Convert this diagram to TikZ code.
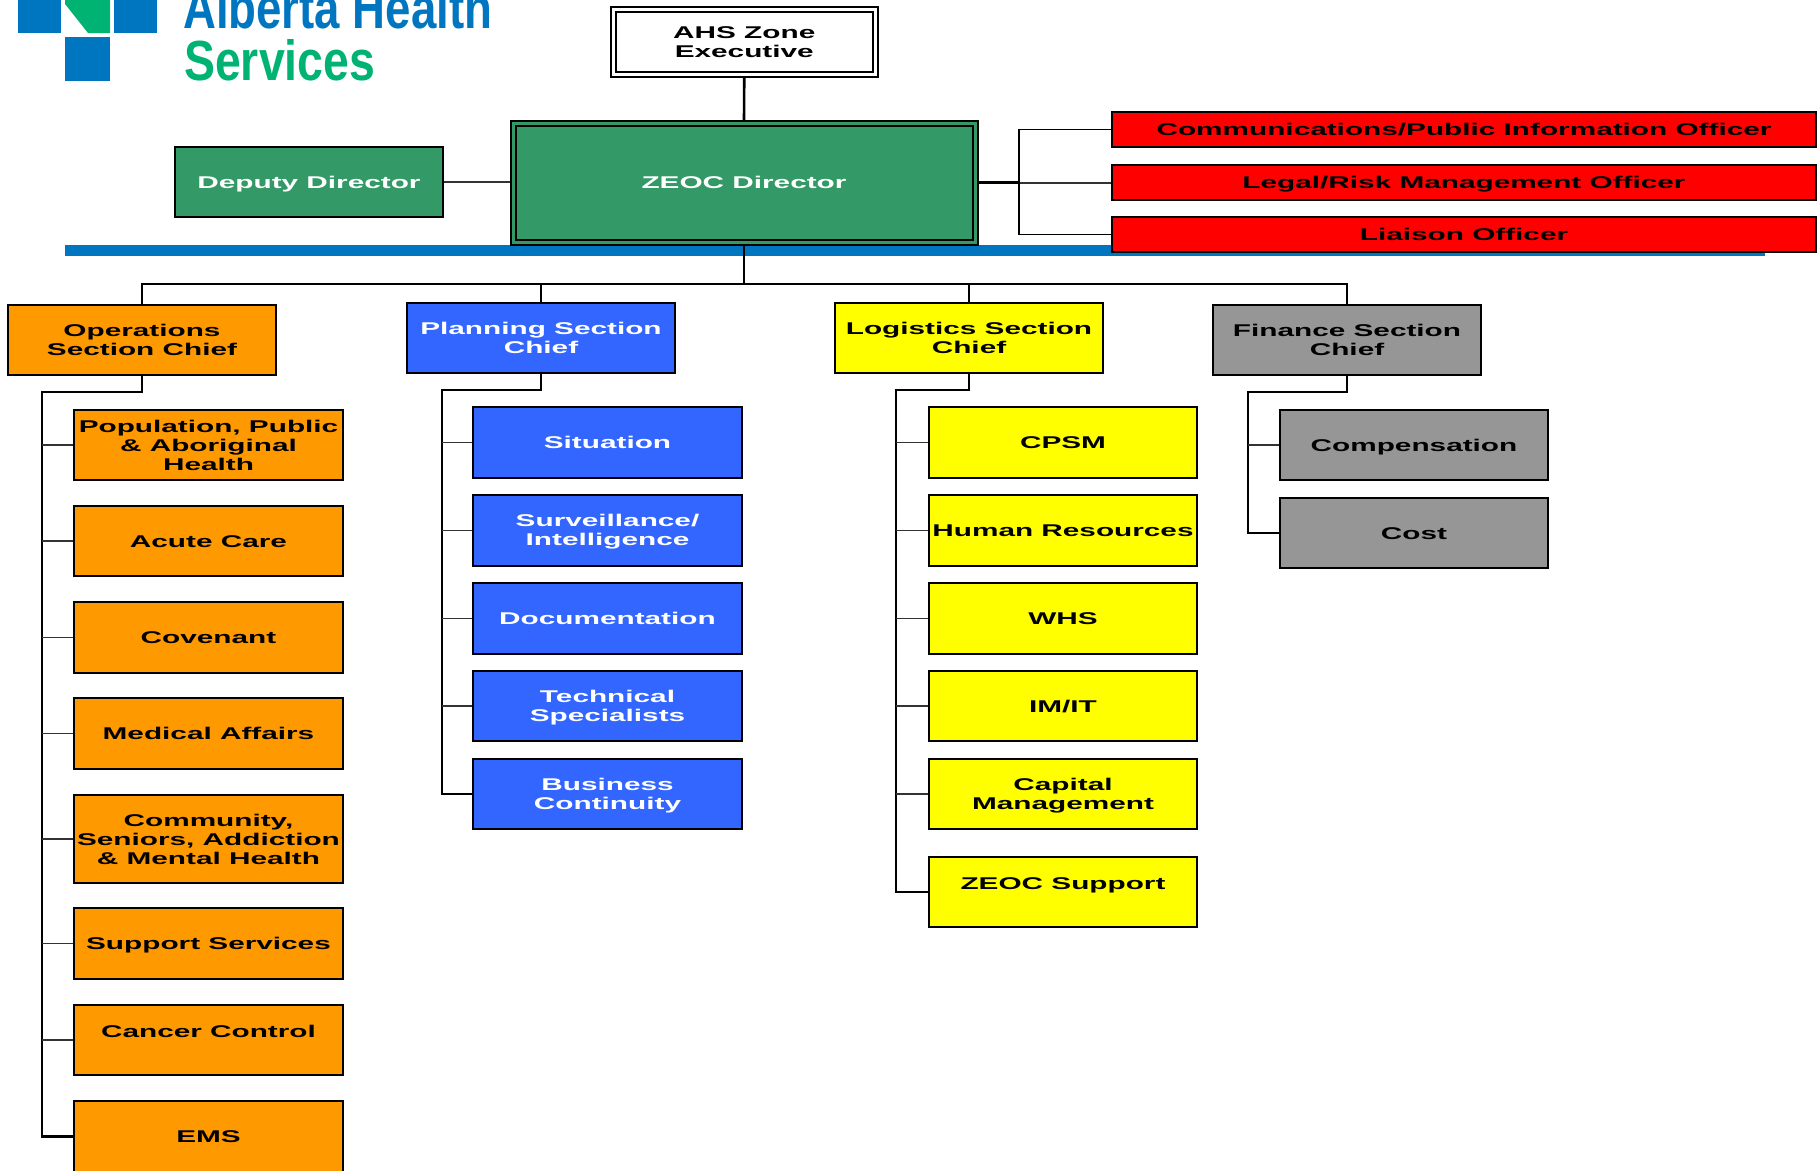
\documentclass[tikz,border=0pt]{standalone}
\usepackage{graphicx}
\usepackage{fontspec}
\setmainfont{Liberation Sans}
\newfontfamily\lab[FakeStretch=1.75]{Liberation Sans}
\definecolor{dgreen}{HTML}{339966}
\definecolor{ora}{HTML}{FF9900}
\definecolor{pblue}{HTML}{3366FF}
\definecolor{yel}{HTML}{FFFF00}
\definecolor{gry}{HTML}{969696}
\definecolor{rd}{HTML}{FF0000}
\definecolor{logoblue}{HTML}{0076C0}
\definecolor{logogreen}{HTML}{00B373}
\newcommand\lnstrut{\rule[-4pt]{0pt}{20pt}}
\newcommand\lnf[1]{\rule{0pt}{#1pt}}
\newcommand\lnl{\rule[-3.6pt]{0pt}{3.6pt}}
\tikzset{
  boxbase/.style={draw=black,line width=1.6pt,inner sep=0pt,align=center,
    font=\lab\bfseries\fontsize{17}{19}\selectfont,
    execute at begin node=\lnstrut,execute at end node=\lnstrut},
  greenbox/.style={boxbase,fill=dgreen,text=white},
  whitebox/.style={boxbase,fill=white,text=black},
  orabox/.style={boxbase,fill=ora,text=black},
  bluebox/.style={boxbase,fill=pblue,text=white},
  yelbox/.style={boxbase,fill=yel,text=black},
  grybox/.style={boxbase,fill=gry,text=black},
  redbox/.style={boxbase,fill=rd,text=black},
  dblbox/.style={line width=2pt,double distance=3pt,outer sep=3.5pt},
  trunk/.style={draw=black,line width=2.6pt,line cap=rect},
  twig/.style={draw=black!80,line width=1.6pt},
  thinbus/.style={draw=black,line width=1.8pt},
  logotext/.style={inner sep=0pt,font=\bfseries},
}
\newcommand\bx[7][]{%
  \node[#2,#1,minimum width={#5-#3},minimum height={#6-#4}] (#7) at ({(#3+#5)/2},{(#4+#6)/2})}
\begin{document}
\begin{tikzpicture}[x=1pt,y=-1pt]
\useasboundingbox (0,0) rectangle (1819,1170);
\clip (0,0) rectangle (1819,1170);
% logo
\fill[logoblue] (18,-1) rectangle (61,33);
\fill[logoblue] (114,-1) rectangle (157,33);
\fill[logoblue] (65,37) rectangle (110,81);
\fill[logogreen] (65,-1) -- (110,-1) -- (110,33) -- (88,33) -- (65,4) -- cycle;
\node[logotext,text=logoblue,anchor=south west] (lg1) at (183,29.5) {\resizebox{309pt}{42pt}{Alberta Health}};
\node[logotext,text=logogreen,anchor=south west] (lg2) at (184,81) {\resizebox{191pt}{41pt}{Services}};
% blue bar
\fill[logoblue] (65,245) rectangle (1765,256);
% top
\bx[dblbox,double=white]{whitebox}{613}{9}{875.5}{74.5}{ahs} {\lnf{15.5}AHS Zone\\Executive\lnl};
\bx{greenbox}{175}{147}{443}{217}{dep} {Deputy Director};
\bx[dblbox,double=dgreen]{greenbox}{513}{123.5}{975}{242}{dir} {ZEOC Director};
\bx{redbox}{1112}{112}{1816}{147}{comm} {Communications/Public Information Officer};
\bx{redbox}{1112}{165}{1816}{200}{legal} {Legal/Risk Management Officer};
\bx{redbox}{1112}{217}{1816}{252}{liais} {Liaison Officer};
% chiefs
\bx{orabox}{8}{305}{276}{375}{ops} {\lnf{15.5}Operations\\Section Chief\lnl};
\bx{bluebox}{407}{303}{675}{373}{plan} {\lnf{15.5}Planning Section\\Chief\lnl};
\bx{yelbox}{835}{303}{1103}{373}{logi} {\lnf{15.5}Logistics Section\\Chief\lnl};
\bx{grybox}{1213}{305}{1481}{375}{fin} {\lnf{15.5}Finance Section\\Chief\lnl};
% operations
\bx{orabox}{74}{410}{343}{480}{pop} {\lnf{17}Population, Public\\\& Aboriginal\\Health\lnl};
\bx{orabox}{74}{506}{343}{576}{acute} {Acute Care};
\bx{orabox}{74}{602}{343}{673}{cov} {Covenant};
\bx{orabox}{74}{698}{343}{769}{med} {Medical Affairs};
\bx{orabox}{74}{795}{343}{883}{comty} {\lnf{17}Community,\\Seniors, Addiction\\\& Mental Health\lnl};
\bx{orabox}{74}{908}{343}{979}{supp} {Support Services};
\bx{orabox}{74}{1005}{343}{1075}{canc} {\lnf{18.5}Cancer Control\\\ \lnl};
\bx{orabox}{74}{1101}{343}{1172}{ems} {EMS};
% planning
\bx{bluebox}{473}{407}{742}{478}{sit} {Situation};
\bx{bluebox}{473}{495}{742}{566}{surv} {\lnf{15}Surveillance/\\Intelligence\lnl};
\bx{bluebox}{473}{583}{742}{654}{docu} {Documentation};
\bx{bluebox}{473}{671}{742}{741}{tech} {\lnf{16}Technical\\Specialists\lnl};
\bx{bluebox}{473}{759}{742}{829}{bus} {\lnf{15}Business\\Continuity\lnl};
% logistics
\bx{yelbox}{929}{407}{1197}{478}{cpsm} {CPSM};
\bx{yelbox}{929}{495}{1197}{566}{hr} {Human Resources};
\bx{yelbox}{929}{583}{1197}{654}{whs} {WHS};
\bx{yelbox}{929}{671}{1197}{741}{imit} {IM/IT};
\bx{yelbox}{929}{759}{1197}{829}{cap} {\lnf{15}Capital\\Management\lnl};
\bx{yelbox}{929}{857}{1197}{927}{zsup} {\lnf{18.5}ZEOC Support\\\ \lnl};
% finance
\bx{grybox}{1280}{410}{1548}{480}{comp} {Compensation};
\bx{grybox}{1280}{498}{1548}{568}{cost} {Cost};
% coordinates
\coordinate (hub) at (744,284);
\coordinate (brk) at (1019,182);
\coordinate (opsb) at (42,392);
\coordinate (planb) at (442,390);
\coordinate (logib) at (896,390);
\coordinate (finb) at (1248,392);
% top connectors
\draw[trunk] (ahs.south) -- (dir.north);
\draw[twig] (dep.east) -- (dep.east -| dir.west);
\draw[trunk] (dir.east) -- (dir.east -| brk);
\draw[twig] (dir.east -| brk) -- (dir.east -| legal.west);
\draw[thinbus] (comm.west) -| (brk) |- (liais.west);
\draw[trunk] (dir.south) -- (hub);
\draw[thinbus] (ops.north) |- (hub) -| (fin.north);
\draw[thinbus] (plan.north) -- (plan.north |- hub);
\draw[thinbus] (logi.north) -- (logi.north |- hub);
% branch trunks
\draw[trunk] (ops.south) |- (opsb) -- (opsb |- ems.west) -- (ems.west);
\draw[trunk] (plan.south) |- (planb) -- (planb |- bus.west) -- (bus.west);
\draw[trunk] (logi.south) |- (logib) -- (logib |- zsup.west) -- (zsup.west);
\draw[trunk] (fin.south) |- (finb) -- (finb |- cost.west) -- (cost.west);
% twigs
\foreach \n in {pop,acute,cov,med,comty,supp,canc} \draw[twig] (opsb |- \n.west) -- (\n.west);
\foreach \n in {sit,surv,docu,tech} \draw[twig] (planb |- \n.west) -- (\n.west);
\foreach \n in {cpsm,hr,whs,imit,cap} \draw[twig] (logib |- \n.west) -- (\n.west);
\draw[twig] (finb |- comp.west) -- (comp.west);
\end{tikzpicture}
\end{document}
